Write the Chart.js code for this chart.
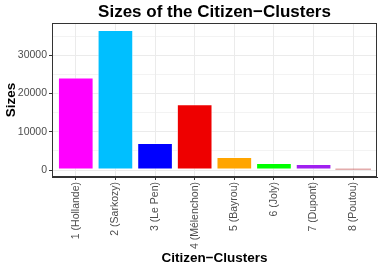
<!DOCTYPE html>
<html>
<head>
<meta charset="utf-8">
<script src="https://cdn.jsdelivr.net/npm/chart.js@4"></script>
<style>
  html, body { margin: 0; padding: 0; background: #fff; }
  #wrap { width: 382px; height: 269px; }
</style>
</head>
<body>
<div id="wrap"><canvas id="clusterChart" width="382" height="269"></canvas></div>
<script>
// cluster names and sizes
const clusters = ['1 (Hollande)', '2 (Sarkozy)', '3 (Le Pen)', '4 (Mélenchon)',
  '5 (Bayrou)', '6 (Joly)', '7 (Dupont)', '8 (Poutou)'];
const sizes = [24200, 36630, 7050, 17200, 3400, 1850, 1600, 340];
const barColors = ['#FF00FF', '#00BFFF', '#0000FF', '#EE0000',
  '#FFA500', '#00FF00', '#A020F0', '#C85A5A'];
const yTicks = [0, 5000, 10000, 15000, 20000, 25000, 30000, 35000];

const FONT = 'Liberation Sans, Arial, Helvetica, sans-serif';

// ggplot-like panel: border all round plus a title centred on the panel
const panelPlugin = {
  id: 'panel',
  afterDraw(chart) {
    const { ctx, chartArea: a } = chart;
    ctx.save();
    ctx.strokeStyle = '#333333';
    ctx.lineWidth = 1;
    ctx.strokeRect(a.left + 0.5, a.top + 0.5, a.right - a.left - 1, a.bottom - a.top - 1);
    ctx.fillStyle = '#000';
    ctx.font = 'bold 17px ' + FONT;
    ctx.textAlign = 'center';
    ctx.textBaseline = 'alphabetic';
    ctx.fillText('Sizes of the Citizen\u2212Clusters', (a.left + a.right) / 2, 17);
    ctx.restore();
  }
};

new Chart(document.getElementById('clusterChart'), {
  type: 'bar',
  data: {
    datasets: [{
      data: sizes.map((v, i) => ({ x: i + 1, y: v })),
      backgroundColor: barColors,
      borderColor: 'rgba(255,255,255,0.7)',
      borderWidth: (c) => (c.raw && c.raw.y < 1000 ? 0 : 1),
      borderSkipped: false,
      barPercentage: 0.9,
      categoryPercentage: 1
    }]
  },
  options: {
    responsive: false,
    animation: false,
    devicePixelRatio: 1,
    layout: { padding: { top: 23, right: 5, left: 3, bottom: 0 } },
    plugins: { legend: { display: false }, tooltip: { enabled: false } },
    scales: {
      x: {
        type: 'linear',
        min: 0.4,
        max: 8.6,
        offset: false,
        afterBuildTicks: (axis) => { axis.ticks = clusters.map((c, i) => ({ value: i + 1 })); },
        afterFit: (axis) => { axis.height = 92; },
        ticks: {
          callback: (v) => clusters[v - 1],
          minRotation: 90,
          maxRotation: 90,
          color: '#4D4D4D',
          font: { family: FONT, size: 10.5 },
          padding: 2
        },
        grid: { offset: false, color: '#EBEBEB', tickLength: 3, tickColor: '#333333', lineWidth: 1 },
        border: { color: '#333333', width: 1 },
        title: {
          display: true,
          text: 'Citizen\u2212Clusters',
          color: '#000',
          font: { family: FONT, size: 13.5, weight: 'bold' },
          padding: { top: 0, bottom: 3 }
        }
      },
      y: {
        min: -1830,
        max: 38460,
        afterBuildTicks: (axis) => { axis.ticks = yTicks.map(v => ({ value: v })); },
        afterFit: (axis) => { axis.width = 49; },
        ticks: {
          callback: (v) => (v % 10000 === 0 ? String(v) : ''),
          color: '#4D4D4D',
          font: { family: FONT, size: 10.5 },
          padding: 2
        },
        grid: {
          color: '#EBEBEB',
          lineWidth: (c) => (c.tick && c.tick.value % 10000 === 0 ? 1 : 0.6),
          tickLength: 3,
          tickColor: (c) => (c.tick && c.tick.value % 10000 === 0 ? '#333333' : 'rgba(0,0,0,0)')
        },
        border: { color: '#333333', width: 1 },
        title: {
          display: true,
          text: 'Sizes',
          color: '#000',
          font: { family: FONT, size: 13.5, weight: 'bold' },
          padding: { top: 0, bottom: 2 }
        }
      }
    }
  },
  plugins: [panelPlugin]
});
</script>
</body>
</html>
